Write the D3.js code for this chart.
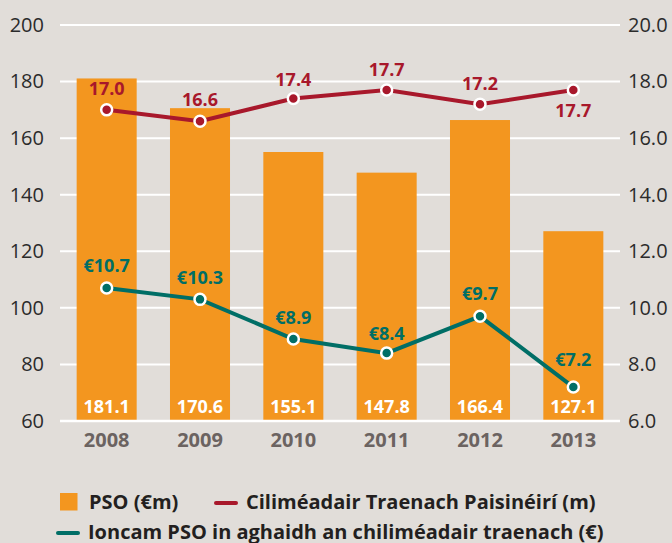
<!DOCTYPE html>
<html>
<head>
<meta charset="utf-8">
<script src="https://cdn.jsdelivr.net/npm/d3@7"></script>
<style>
  body { margin: 0; background: #e1ddd9; }
  svg { display: block; }
  .axis text { font-family: "Open Sans", sans-serif; }
</style>
</head>
<body>
<svg id="chart" width="672" height="543"></svg>
<script>
// chart data
const years = ['2008', '2009', '2010', '2011', '2012', '2013'];
const pso = [181.1, 170.6, 155.1, 147.8, 166.4, 127.1];
const trainKm = [17.0, 16.6, 17.4, 17.7, 17.2, 17.7];
const psoPerKm = [10.7, 10.3, 8.9, 8.4, 9.7, 7.2];
const leftTicks = [60, 80, 100, 120, 140, 160, 180, 200];
const rightTicks = [6, 8, 10, 12, 14, 16, 18, 20];

const legendLabels = ['PSO (€m)', 'Ciliméadair Traenach Paisinéirí (m)',
    'Ioncam PSO in aghaidh an chiliméadair traenach (€)'];

const orange = '#f3961f';
const red = '#a8182b';
const teal = '#006e66';

let svg = d3.select('svg#chart');

let x = d3.scaleBand()
    .domain(years)
    .range([60, 620])
    .paddingInner(0.357)
    .paddingOuter(0.1785);
let yL = d3.scaleLinear().domain([60, 200]).range([421, 25]);
let yR = d3.scaleLinear().domain([6, 20]).range([421, 25]);

// gridlines behind bars
svg.append('g')
    .selectAll('line')
    .data(leftTicks.slice(1))
    .enter()
    .append('line')
    .attr('x1', 60)
    .attr('x2', 620)
    .attr('y1', d => yL(d))
    .attr('y2', d => yL(d))
    .attr('stroke', '#fff')
    .attr('stroke-width', 2);

// bars
svg.append('g')
    .selectAll('rect')
    .data(pso)
    .enter()
    .append('rect')
    .attr('x', (d, i) => x(years[i]))
    .attr('width', x.bandwidth())
    .attr('y', d => yL(d))
    .attr('height', d => yL(60) - yL(d))
    .attr('fill', orange);

svg.append('g')
    .selectAll('text')
    .data(pso)
    .enter()
    .append('text')
    .attr('x', (d, i) => x(years[i]) + x.bandwidth() / 2)
    .attr('y', yL(60) - 8)
    .attr('text-anchor', 'middle')
    .attr('fill', '#fff')
    .style('font-family', '"Open Sans", sans-serif')
    .style('font-weight', 700)
    .style('font-size', '18px')
    .text(d => d.toFixed(1));

// baseline
svg.append('line')
    .attr('x1', 60)
    .attr('x2', 620)
    .attr('y1', yL(60))
    .attr('y2', yL(60))
    .attr('stroke', '#fff')
    .attr('stroke-width', 2.5);

// axes
let leftAxis = svg.append('g')
    .attr('class', 'axis')
    .attr('transform', 'translate(60,0)')
    .call(d3.axisLeft(yL).tickValues(leftTicks).tickSize(0).tickPadding(16));
let rightAxis = svg.append('g')
    .attr('class', 'axis')
    .attr('transform', 'translate(620,0)')
    .call(d3.axisRight(yR).tickValues(rightTicks).tickSize(0).tickPadding(8)
        .tickFormat(d3.format('.1f')));
[leftAxis, rightAxis].forEach(function (g) {
    g.select('.domain').remove();
    g.selectAll('text')
        .attr('fill', '#2b2b2b')
        .style('font-size', '20px');
});

let bottomAxis = svg.append('g')
    .attr('class', 'axis')
    .attr('transform', 'translate(0,' + yL(60) + ')')
    .call(d3.axisBottom(x).tickSize(0).tickPadding(11.5));
bottomAxis.select('.domain').remove();
bottomAxis.selectAll('text')
    .attr('fill', '#6b6361')
    .style('font-size', '20px')
    .style('font-weight', 700);

// lines with labelled points
function drawSeries(values, color, prefix, labelOffsets) {
    let line = d3.line()
        .x((d, i) => x(years[i]) + x.bandwidth() / 2)
        .y(d => yR(d));
    svg.append('path')
        .datum(values)
        .attr('d', line)
        .attr('fill', 'none')
        .attr('stroke', color)
        .attr('stroke-width', 4);
    svg.append('g')
        .selectAll('circle')
        .data(values)
        .enter()
        .append('circle')
        .attr('cx', (d, i) => x(years[i]) + x.bandwidth() / 2)
        .attr('cy', d => yR(d))
        .attr('r', 5.5)
        .attr('fill', color)
        .attr('stroke', '#fff')
        .attr('stroke-width', 2.5);
    svg.append('g')
        .selectAll('text')
        .data(values)
        .enter()
        .append('text')
        .attr('x', (d, i) => x(years[i]) + x.bandwidth() / 2)
        .attr('y', (d, i) => yR(d) + labelOffsets[i])
        .attr('text-anchor', 'middle')
        .attr('fill', color)
        .style('font-family', '"Open Sans", sans-serif')
        .style('font-weight', 700)
        .style('font-size', '18px')
        .text(d => prefix + d.toFixed(1));
}

drawSeries(trainKm, red, '', [-15, -15, -13, -14, -14, 27]);
drawSeries(psoPerKm, teal, '€', [-16, -15, -15, -13, -16, -21]);

// legend
let legend = svg.append('g')
    .style('font-family', '"Open Sans", sans-serif')
    .style('font-weight', 700)
    .style('font-size', '20px')
    .attr('fill', '#231f20');
legend.append('rect')
    .attr('x', 60).attr('y', 493)
    .attr('width', 17.5).attr('height', 17.5)
    .attr('fill', orange);
legend.append('text').attr('x', 89).attr('y', 509).text(legendLabels[0]);
legend.append('line')
    .attr('x1', 216).attr('x2', 236)
    .attr('y1', 503).attr('y2', 503)
    .attr('stroke', red).attr('stroke-width', 4).attr('stroke-linecap', 'round');
legend.append('text').attr('x', 246).attr('y', 509).text(legendLabels[1]);
legend.append('line')
    .attr('x1', 58).attr('x2', 78)
    .attr('y1', 533).attr('y2', 533)
    .attr('stroke', teal).attr('stroke-width', 4).attr('stroke-linecap', 'round');
legend.append('text').attr('x', 88).attr('y', 539).text(legendLabels[2]);
</script>
</body>
</html>
